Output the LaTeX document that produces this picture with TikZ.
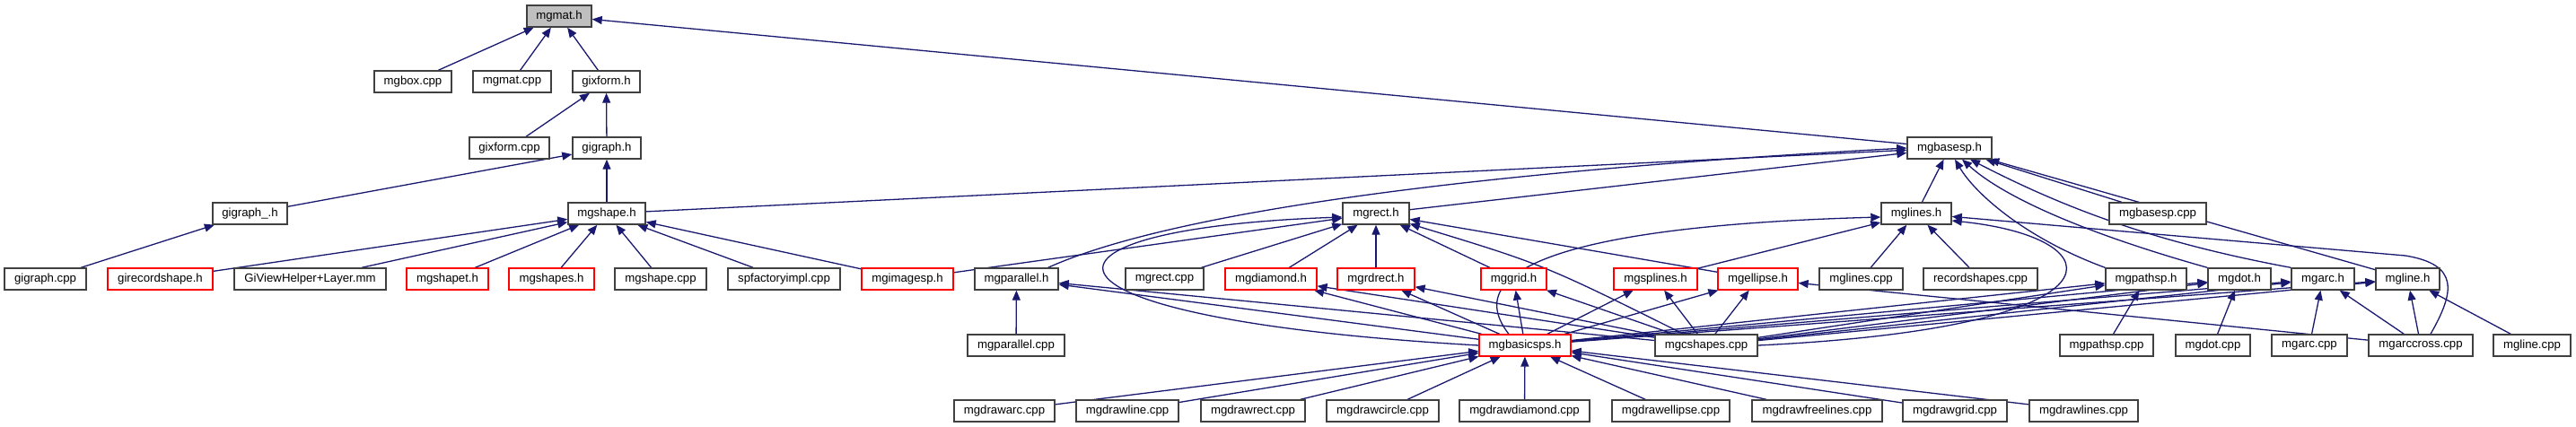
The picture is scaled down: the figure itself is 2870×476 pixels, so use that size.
\documentclass[tikz,border=0pt]{standalone}
\usepackage{fontspec}
\setmainfont{Liberation Sans}
\usetikzlibrary{arrows.meta}
\definecolor{edgecol}{RGB}{25,25,112}
\definecolor{boxgray}{RGB}{191,191,191}
\definecolor{boxline}{RGB}{64,64,64}
\pgfdeclarelayer{bg}
\pgfsetlayers{bg,main}
\tikzset{
 box/.style={draw=boxline, line width=1.4pt, fill=white, minimum height=24pt, inner sep=0pt, font=\fontsize{13.2}{15}\selectfont},
 redbox/.style={box, draw=red, line width=1.2pt},
 dep/.style={draw=edgecol, line width=1.3pt, -{Triangle[length=11pt,width=9pt]}},
}
\begin{document}
\begin{tikzpicture}[x=1pt,y=-1pt]
\useasboundingbox (0,0) rectangle (2870,476);
% row 0
\node[box, minimum width=72pt, fill=boxgray] (mgmat) at (623,18) {mgmat.h};
% row 1
\node[box, minimum width=86pt] (mgbox) at (460,91) {mgbox.cpp};
\node[box, minimum width=87pt] (mgmatcpp) at (570.5,91) {mgmat.cpp};
\node[box, minimum width=75pt] (gixform) at (675.5,91) {gixform.h};
% row 2
\node[box, minimum width=89pt] (gixformcpp) at (567.5,165) {gixform.cpp};
\node[box, minimum width=76pt] (gigraph) at (676,165) {gigraph.h};
\node[box, minimum width=94pt] (mgbasesp) at (2172,165) {mgbasesp.h};
% row 3
\node[box, minimum width=83pt] (gigraphu) at (278.5,238) {gigraph\_.h};
\node[box, minimum width=86pt] (mgshape) at (676,238) {mgshape.h};
\node[box, minimum width=74pt] (mgrect) at (1533,238) {mgrect.h};
\node[box, minimum width=78pt] (mglines) at (2135,238) {mglines.h};
\node[box, minimum width=108pt] (mgbasespcpp) at (2404,238) {mgbasesp.cpp};
% row 4
\node[box, minimum width=91pt] (gigraphcpp) at (50.5,311) {gigraph.cpp};
\node[redbox, minimum width=117pt] (girecordshape) at (178.5,311) {girecordshape.h};
\node[box, minimum width=169pt] (giview) at (345.5,311) {GiViewHelper+Layer.mm};
\node[redbox, minimum width=91pt] (mgshapet) at (498.5,311) {mgshapet.h};
\node[redbox, minimum width=95pt] (mgshapes) at (614.5,311) {mgshapes.h};
\node[box, minimum width=102pt] (mgshapecpp) at (736,311) {mgshape.cpp};
\node[box, minimum width=125pt] (spfactory) at (873.5,311) {spfactoryimpl.cpp};
\node[redbox, minimum width=102pt] (mgimagesp) at (1011,311) {mgimagesp.h};
\node[box, minimum width=93pt] (mgparallel) at (1132.5,311) {mgparallel.h};
\node[box, minimum width=87pt] (mgrectcpp) at (1297.5,311) {mgrect.cpp};
\node[redbox, minimum width=102pt] (mgdiamond) at (1416,311) {mgdiamond.h};
\node[redbox, minimum width=86pt] (mgrdrect) at (1533,311) {mgrdrect.h};
\node[redbox, minimum width=73pt] (mggrid) at (1686.5,311) {mggrid.h};
\node[redbox, minimum width=93pt] (mgsplines) at (1844.5,311) {mgsplines.h};
\node[redbox, minimum width=89pt] (mgellipse) at (1958.5,311) {mgellipse.h};
\node[box, minimum width=93pt] (mglinescpp) at (2073.5,311) {mglines.cpp};
\node[box, minimum width=127pt] (recordshapes) at (2206.5,311) {recordshapes.cpp};
\node[box, minimum width=90pt] (mgpathsp) at (2391,311) {mgpathsp.h};
\node[box, minimum width=70pt] (mgdot) at (2495,311) {mgdot.h};
\node[box, minimum width=70pt] (mgarc) at (2588,311) {mgarc.h};
\node[box, minimum width=71pt] (mgline) at (2682.5,311) {mgline.h};
% row 5
\node[box, minimum width=108pt] (mgparallelcpp) at (1132,385) {mgparallel.cpp};
\node[redbox, minimum width=102pt] (mgbasicsps) at (1699,385) {mgbasicsps.h};
\node[box, minimum width=114pt] (mgcshapes) at (1901,385) {mgcshapes.cpp};
\node[box, minimum width=104pt] (mgpathspcpp) at (2347,385) {mgpathsp.cpp};
\node[box, minimum width=83pt] (mgdotcpp) at (2465.5,385) {mgdot.cpp};
\node[box, minimum width=84pt] (mgarccpp) at (2573,385) {mgarc.cpp};
\node[box, minimum width=116pt] (mgarccross) at (2697,385) {mgarccross.cpp};
\node[box, minimum width=86pt] (mglinecpp) at (2821,385) {mgline.cpp};
% row 6
\node[box, minimum width=112pt] (mgdrawarc) at (1119,458) {mgdrawarc.cpp};
\node[box, minimum width=114pt] (mgdrawline) at (1256,458) {mgdrawline.cpp};
\node[box, minimum width=116pt] (mgdrawrect) at (1396,458) {mgdrawrect.cpp};
\node[box, minimum width=125pt] (mgdrawcircle) at (1540.5,458) {mgdrawcircle.cpp};
\node[box, minimum width=145pt] (mgdrawdiamond) at (1698.5,458) {mgdrawdiamond.cpp};
\node[box, minimum width=131pt] (mgdrawellipse) at (1861.5,458) {mgdrawellipse.cpp};
\node[box, minimum width=145pt] (mgdrawfreelines) at (2024.5,458) {mgdrawfreelines.cpp};
\node[box, minimum width=116pt] (mgdrawgrid) at (2178,458) {mgdrawgrid.cpp};
\node[box, minimum width=121pt] (mgdrawlines) at (2321.5,458) {mgdrawlines.cpp};

\begin{pgfonlayer}{bg}
\draw[dep] (mgbox) -- (mgmat);
\draw[dep] (mgmatcpp) -- (mgmat);
\draw[dep] (gixform) -- (mgmat);
\draw[dep] (mgbasesp) -- (mgmat);
\draw[dep] (gixformcpp) -- (gixform);
\draw[dep] (gigraph) -- (gixform);
\draw[dep] (gigraphu) -- (gigraph);
\draw[dep] (mgshape) -- (gigraph);
\draw[dep] (gigraphcpp) -- (gigraphu);
\draw[dep] (girecordshape) -- (mgshape);
\draw[dep] (giview) -- (mgshape);
\draw[dep] (mgshapet) -- (mgshape);
\draw[dep] (mgshapes) -- (mgshape);
\draw[dep] (mgshapecpp) -- (mgshape);
\draw[dep] (spfactory) -- (mgshape);
\draw[dep] (mgimagesp) -- (mgshape);
\draw[dep] (mgshape) -- (mgbasesp);
\draw[dep] (mgimagesp) -- (mgrect);
\draw[dep] ([xshift=-12pt]mgparallel.north east) .. controls (1330,225) and (1750,185) .. (mgbasesp.west);
\draw[dep] (mgrect) -- (mgbasesp);
\draw[dep] (mgparallelcpp) -- (mgparallel);
\draw[dep] (mgrectcpp) -- (mgrect);
\draw[dep] (mgdiamond) -- (mgrect);
\draw[dep] (mgrdrect) -- (mgrect);
\draw[dep] (mggrid) -- (mgrect);
\draw[dep] (mgcshapes) .. controls (1720,295) .. (mgrect);
\draw[dep] (mgellipse) -- (mgrect);
\draw[dep] (mgbasicsps.west) .. controls (1120,355) and (1120,255) .. ([yshift=-4pt]mgrect.west);
\draw[dep] (mglines) -- (mgbasesp);
\draw[dep] (mglinescpp) -- (mglines);
\draw[dep] (recordshapes) -- (mglines);
\draw[dep] (mgsplines) -- (mglines);
\draw[dep] ([xshift=-18pt]mgbasicsps.north) .. controls (1615,288) and (1800,250) .. ([yshift=-4pt]mglines.west);
\draw[dep] (mgcshapes.east) .. controls (2380,365) and (2360,265) .. ([yshift=-8pt]mglines.east);
\draw[dep] ([xshift=11pt]mgarccross.north) .. controls (2735,325) and (2740,295) .. (2680,285) -- (mglines);
\draw[dep] (mgbasespcpp) -- (mgbasesp);
\draw[dep] (mgpathsp.north west) .. controls (2255,265) and (2200,215) .. ([xshift=6pt]mgbasesp.south);
\draw[dep] (mgdot.north west) .. controls (2330,262) and (2235,222) .. ([xshift=14pt]mgbasesp.south);
\draw[dep] (mgarc.north west) .. controls (2400,270) and (2300,232) .. ([xshift=23pt]mgbasesp.south);
\draw[dep] (mgline) -- (mgbasesp);
\draw[dep] (mgbasicsps) -- (mgparallel);
\draw[dep] (mgcshapes) -- (mgparallel);
\draw[dep] (mgbasicsps) -- (mgdiamond);
\draw[dep] (mgcshapes) -- (mgdiamond);
\draw[dep] (mgbasicsps) -- (mgrdrect);
\draw[dep] (mgcshapes) -- (mgrdrect);
\draw[dep] (mgbasicsps) -- (mggrid);
\draw[dep] (mgcshapes) -- (mggrid);
\draw[dep] (mgbasicsps) -- (mgsplines);
\draw[dep] (mgcshapes) -- (mgsplines);
\draw[dep] (mgbasicsps) -- (mgellipse);
\draw[dep] (mgcshapes) -- (mgellipse);
\draw[dep] (mgarccross) -- (mgellipse);
\draw[dep] (mgbasicsps) -- (mgpathsp);
\draw[dep] (mgcshapes) -- (mgpathsp);
\draw[dep] (mgpathspcpp) -- (mgpathsp);
\draw[dep] (mgbasicsps) -- (mgdot);
\draw[dep] (mgcshapes) -- (mgdot);
\draw[dep] (mgdotcpp) -- (mgdot);
\draw[dep] (mgbasicsps) -- (mgarc);
\draw[dep] (mgcshapes) -- (mgarc);
\draw[dep] (mgarccpp) -- (mgarc);
\draw[dep] (mgarccross) -- (mgarc);
\draw[dep] (mgbasicsps) -- (mgline);
\draw[dep] (mgcshapes) -- (mgline);
\draw[dep] (mgarccross) -- (mgline);
\draw[dep] (mglinecpp) -- (mgline);
\draw[dep] (mgdrawarc) -- (mgbasicsps);
\draw[dep] (mgdrawline) -- (mgbasicsps);
\draw[dep] (mgdrawrect) -- (mgbasicsps);
\draw[dep] (mgdrawcircle) -- (mgbasicsps);
\draw[dep] (mgdrawdiamond) -- (mgbasicsps);
\draw[dep] (mgdrawellipse) -- (mgbasicsps);
\draw[dep] (mgdrawfreelines) -- (mgbasicsps);
\draw[dep] (mgdrawgrid) -- (mgbasicsps);
\draw[dep] (mgdrawlines) -- (mgbasicsps);
\end{pgfonlayer}
\end{tikzpicture}
\end{document}
